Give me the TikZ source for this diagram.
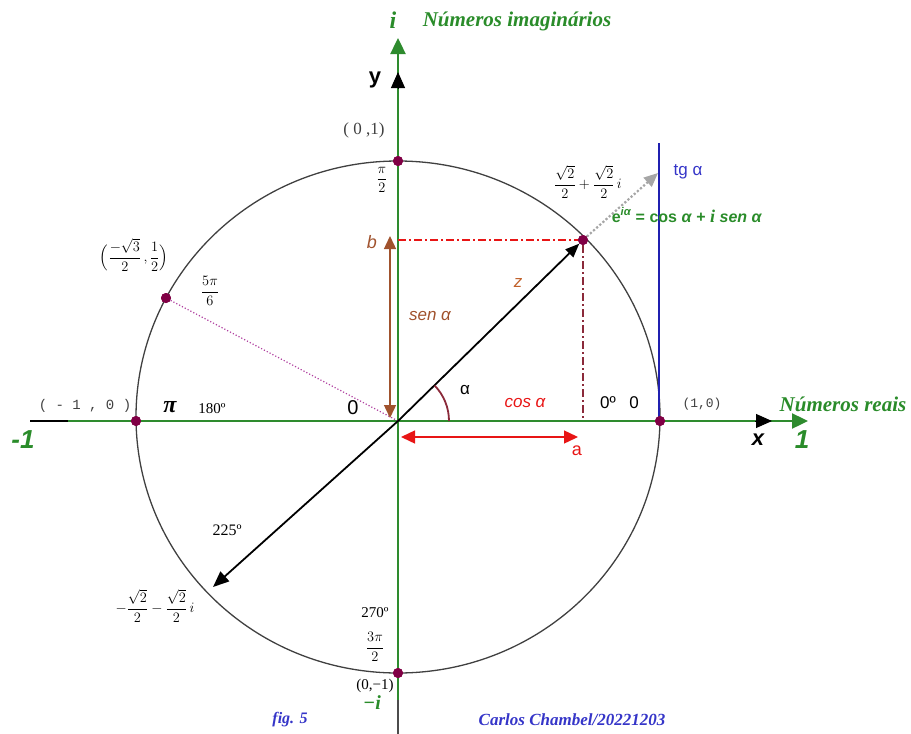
\documentclass[tikz,border=0pt]{standalone}
\usepackage{amsmath}
\usepackage{fontspec}
\setmainfont{Liberation Serif}
\newfontfamily\arialf{Liberation Sans}
\newfontfamily\monof{Liberation Mono}
\usetikzlibrary{arrows.meta}
\definecolor{axgreen}{HTML}{2E8B2E}
\definecolor{txtgreen}{HTML}{2A8C2A}
\definecolor{dotc}{HTML}{800045}
\definecolor{brownc}{HTML}{A0522D}
\definecolor{redc}{HTML}{E81515}
\definecolor{maroonc}{HTML}{8B2A3A}
\definecolor{purplec}{HTML}{B040A0}
\definecolor{bluel}{HTML}{2020B0}
\definecolor{bluet}{HTML}{3535C8}
\definecolor{graytxt}{HTML}{404040}
\definecolor{zcol}{HTML}{C0602A}
\newcommand{\fs}[1]{\fontsize{#1}{#1}\selectfont}
\begin{document}
\begin{tikzpicture}[x=1pt,y=-1pt,
  every node/.style={inner sep=0pt},
  ptdot/.style={circle, fill=dotc, minimum size=10pt, inner sep=0pt},
  scriptg/.style={text=txtgreen, font=\fs{21}\bfseries\itshape},
  sanslbl/.style={font=\arialf\fs{17}},
  serlbl/.style={font=\fs{15}},
  fraclbl/.style={font=\fs{15}},
  dashdot/.style={line width=1.5pt, dash pattern=on 8pt off 3pt on 2pt off 3pt}]
\useasboundingbox (0,0) rectangle (911,734);

% key points
\coordinate (O) at (398,421);
\coordinate (C) at (398,417);
\coordinate (B) at (398,240);

% circle
\draw[black!75, line width=1.3pt] (C) ellipse [x radius=262, y radius=256];

% axes
\coordinate (xl) at (30,421);
\coordinate (xg) at (68,421);
\coordinate (xe) at (808,421);
\coordinate (xbs) at (755,421);
\coordinate (xbe) at (772,421);
\draw[black, line width=2pt] (xl) -- (xg);
\draw[axgreen, line width=2.4pt, -{Triangle[length=16pt,width=15pt]}] (xg) -- (xe);
\draw[black, line width=1pt, -{Triangle[length=16pt,width=14pt]}] (xbs) -- (xbe);

\coordinate (yb) at (398,734);
\coordinate (yg) at (398,700);
\coordinate (ye) at (398,38);
\coordinate (ybs) at (398,89);
\coordinate (ybe) at (398,72);
\draw[black!70, line width=2pt] (yb) -- (yg);
\draw[axgreen, line width=2.4pt, -{Triangle[length=16pt,width=15pt]}] (yg) -- (ye);
\draw[black, line width=1pt, -{Triangle[length=16pt,width=14pt]}] (ybs) -- (ybe);

% tangent line
\coordinate (tt) at (659,143);
\coordinate (tb) at (659,421);
\draw[bluel, line width=1.5pt] (tt) -- (tb);

% points on the circle
\node[ptdot] (P45) at (583,240) {};
\node[ptdot] (P90) at (398,161) {};
\node[ptdot] (P270) at (398,673) {};
\node[ptdot] (P180) at (136,421) {};
\node[ptdot] (P0) at (660,421) {};
\node[ptdot] (P150) at (166,298) {};
\coordinate (P225) at (213,587);
\coordinate (A45) at (583,421);
\coordinate (G) at (658,173);

% projections
\draw[redc, dashdot] (B) -- (P45.west);
\draw[maroonc, dashdot] (P45.south) -- (A45);
\draw[purplec, line width=1.2pt, dotted] (P150) -- (O);
\draw[gray!70, line width=2.2pt, dotted, -{Triangle[length=14pt,width=12pt]}] (P45) -- (G);

% vectors
\draw[black, line width=1.8pt, -{Triangle[length=14pt,width=11pt]}] (O) -- (P45);
\draw[black, line width=1.8pt, -{Triangle[length=16pt,width=13pt]}] (O) -- (P225);

% sin / cos arrows
\coordinate (sb) at (390,236);
\coordinate (se) at (390,418);
\draw[brownc, line width=1.4pt, {Triangle[length=13pt,width=12pt]}-{Triangle[length=13pt,width=12pt]}] (sb) -- (se);
\coordinate (cb) at (401,437);
\coordinate (ce) at (578,437);
\draw[redc, line width=1.4pt, {Triangle[length=14pt,width=13pt]}-{Triangle[length=14pt,width=13pt]}] (cb) -- (ce);

% angle arc
\coordinate (arcs) at (449,421);
\draw[maroonc, line width=1.8pt] (arcs) arc[start angle=0, end angle=-44, radius=51];

% redraw dots on top
\foreach \p in {P45,P90,P270,P180,P0,P150} \fill[dotc] (\p) circle (5pt);

% labels
\node[scriptg, font=\fs{24}\bfseries\itshape] (ilab) at (393,20) {i};
\node[scriptg] (imag) at (517,21) {Números imaginários};
\node[scriptg] (real) at (843,404) {Números reais};
\node[font=\arialf\fs{22}\bfseries] (ylab) at (375,80) {y};
\node[font=\arialf\fs{22}\bfseries\itshape] (xlab) at (758,440) {x};
\node[text=txtgreen, font=\arialf\fs{26}\bfseries\itshape] (m1) at (23,440) {-1};
\node[text=txtgreen, font=\arialf\fs{26}\bfseries\itshape] (p1) at (802,440) {1};

\node[serlbl, font=\fs{17}, text=graytxt] (l01) at (364,130) {( 0 ,1)};
\node[fraclbl] (lpi2) at (382,180) {$\dfrac{\pi}{2}$};
\node[font=\monof\fs{14}, text=graytxt] (lm10) at (85,406) {( - 1 , 0 )};
\node[font=\monof\fs{13}, text=graytxt] (l10) at (702,404) {(1,0)};
\node[font=\fs{24}\bfseries\itshape] (lpi) at (170,407) {π};
\node[serlbl] (l180) at (212,409) {180º};
\node[fraclbl] (l150c) at (134,255) {$\Bigl(\dfrac{-\sqrt{3}}{2}\,,\dfrac{1}{2}\Bigr)$};
\node[fraclbl] (l56) at (210,291) {$\dfrac{5\pi}{6}$};
\node[fraclbl, font=\fs{14}] (l45c) at (588,182) {$\dfrac{\sqrt{2}}{2}+\dfrac{\sqrt{2}}{2}\,i$};
\node[serlbl, font=\fs{16}] (l225) at (227,530) {225º};
\node[fraclbl] (l225c) at (155,606) {$-\dfrac{\sqrt{2}}{2}-\dfrac{\sqrt{2}}{2}\,i$};
\node[serlbl] (l270) at (375,613) {270º};
\node[fraclbl] (l32) at (375,647) {$\dfrac{3\pi}{2}$};
\node[serlbl] (l0m1) at (375,686) {(0,−1)};
\node[text=txtgreen, font=\fs{20}\bfseries\itshape] (lmi) at (372,703) {−i};

\node[sanslbl, text=bluet] (ltg) at (688,172) {tg α};
\node[text=txtgreen, font=\arialf\fs{16}\bfseries] (leul) at (687,215)
  {e\textsuperscript{\itshape iα} = cos \textit{α} + {\fs{18}\rmfamily\itshape i} \textit{sen α}};
\node[sanslbl, font=\arialf\fs{18}\itshape, text=brownc] (lb) at (372,242) {b};
\node[sanslbl, font=\arialf\fs{17}\itshape, text=brownc] (lsen) at (430,316) {sen α};
\node[sanslbl, font=\arialf\fs{17}\itshape, text=zcol] (lz) at (518,283) {z};
\node[sanslbl, font=\arialf\fs{17}\itshape, text=redc] (lcos) at (525,403) {cos α};
\node[sanslbl, font=\arialf\fs{18}, text=redc] (la) at (577,451) {a};
\node[sanslbl] (lal) at (465,390) {α};
\node[font=\arialf\fs{20}] (l0c) at (353,408) {0};
\node[sanslbl] (l0d) at (608,403) {0º};
\node[sanslbl] (l0r) at (634,403) {0};

\node[text=bluet, font=\fs{16}\bfseries\itshape] (lfig) at (290,720) {fig. 5};
\node[text=bluet, font=\fs{17}\bfseries\itshape] (lauth) at (572,720) {Carlos Chambel/20221203};
\end{tikzpicture}
\end{document}
